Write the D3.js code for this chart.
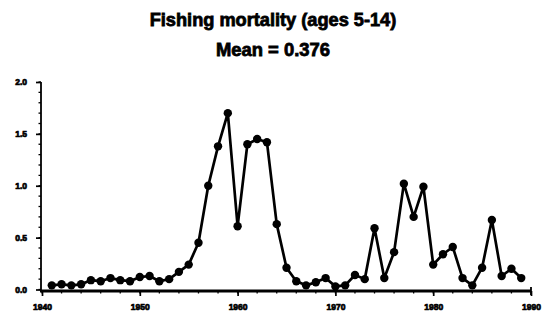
<!DOCTYPE html>
<html>
<head>
<meta charset="utf-8">
<script src="https://cdn.jsdelivr.net/npm/d3@7/dist/d3.min.js"></script>
<style>
  html, body { margin: 0; padding: 0; background: #fff; }
  svg { display: block; }
  .title { font-family: "Liberation Sans", Arial, sans-serif; font-weight: bold; fill: #000; stroke: #000; stroke-width: 0.8; }
  .tick text { font-family: "Liberation Sans", Arial, sans-serif; font-weight: bold; fill: #000; stroke: #000; stroke-width: 0.7; }
</style>
</head>
<body>
<script>
// Fishing mortality, ages 5-14, by year
const years = d3.range(1941, 1990);
const mortality = [
  0.04, 0.05, 0.04, 0.05, 0.09, 0.08, 0.11, 0.09, 0.08, 0.12,
  0.13, 0.08, 0.10, 0.17, 0.24, 0.45, 1.00, 1.38, 1.70, 0.61,
  1.40, 1.45, 1.42, 0.63, 0.21, 0.08, 0.04, 0.07, 0.11, 0.03,
  0.04, 0.14, 0.10, 0.59, 0.11, 0.36, 1.02, 0.70, 0.99, 0.24,
  0.34, 0.41, 0.11, 0.04, 0.21, 0.67, 0.13, 0.20, 0.11
];
const xTicks = [1940, 1950, 1960, 1970, 1980, 1990];
const yTicks = [0, 0.5, 1.0, 1.5, 2.0];
const titleLines = ["Fishing mortality (ages 5-14)", "Mean = 0.376"];

const W = 544, H = 321;
const svg = d3.select("body").append("svg").attr("width", W).attr("height", H);

const x = d3.scaleLinear().domain([1940, 1990]).range([42, 531]);
const y = d3.scaleLinear().domain([0, 2]).range([289.5, 82]);

// titles
svg.append("text").attr("class", "title")
  .attr("x", 273).attr("y", 26).attr("text-anchor", "middle")
  .attr("font-size", 18.2).text(titleLines[0]);
svg.append("text").attr("class", "title")
  .attr("x", 273).attr("y", 56).attr("text-anchor", "middle")
  .attr("font-size", 18.4).text(titleLines[1]);

// minor ticks
const gMinor = svg.append("g").attr("stroke", "#000").attr("stroke-width", 1.3);
gMinor.selectAll(".ym").data(d3.range(0, 21).map(d => d / 10)).join("line")
  .attr("x1", 41).attr("x2", 38.5)
  .attr("y1", d => y(d)).attr("y2", d => y(d));
gMinor.selectAll(".xm").data(d3.range(1940, 1991, 2)).join("line")
  .attr("x1", d => x(d)).attr("x2", d => x(d))
  .attr("y1", 291).attr("y2", 293.5);

// y axis
const yAxis = d3.axisLeft(y).tickValues(yTicks).tickFormat(d3.format(".1f"))
  .tickSize(5).tickPadding(9);
const gy = svg.append("g").attr("transform", "translate(41,0)").call(yAxis);
gy.select(".domain").remove();
gy.append("line").attr("x1", 0).attr("x2", 0)
  .attr("y1", y(2)).attr("y2", 292).attr("stroke", "#000").attr("stroke-width", 1.8);
gy.selectAll(".tick line").attr("stroke-width", 1.7);
gy.selectAll(".tick text").attr("font-size", 8.5);

// x axis
const xAxis = d3.axisBottom(x).tickValues(xTicks).tickFormat(d3.format("d"))
  .tickSize(5).tickPadding(8);
const gx = svg.append("g").attr("transform", "translate(0,291)").call(xAxis);
gx.select(".domain").remove();
gx.append("line").attr("x1", 40).attr("x2", x(1990))
  .attr("y1", 0).attr("y2", 0).attr("stroke", "#000").attr("stroke-width", 2.8);
gx.append("line").attr("x1", x(1990)).attr("x2", x(1990))
  .attr("y1", -4).attr("y2", 4).attr("stroke", "#000").attr("stroke-width", 1.8);
gx.selectAll(".tick line").attr("stroke-width", 1.7);
gx.selectAll(".tick text").attr("font-size", 8.5);

// series
const pts = years.map((yr, i) => [yr, mortality[i]]);
svg.append("path").datum(pts)
  .attr("fill", "none").attr("stroke", "#000").attr("stroke-width", 2.7)
  .attr("stroke-linejoin", "round")
  .attr("d", d3.line().x(d => x(d[0])).y(d => y(d[1])));
svg.append("g").selectAll("circle").data(pts).join("circle")
  .attr("cx", d => x(d[0])).attr("cy", d => y(d[1]))
  .attr("r", 4.2).attr("fill", "#000");
</script>
</body>
</html>
